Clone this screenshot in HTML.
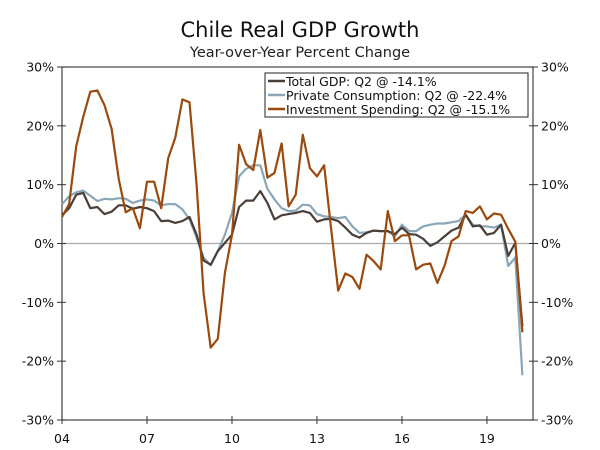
<!DOCTYPE html>
<html><head><meta charset="utf-8"><style>
body{margin:0;background:#fff;width:600px;height:450px;overflow:hidden}
svg{display:block;font-family:"DejaVu Sans","Liberation Sans",sans-serif}
</style></head><body>
<svg id="chart" width="600" height="450">
<text x="300" y="37" text-anchor="middle" font-size="21" fill="#111">Chile Real GDP Growth</text>
<text x="300" y="57" text-anchor="middle" font-size="14.5" fill="#222">Year-over-Year Percent Change</text>
<g id="axes"></g>
<g id="series"></g>
<g>
<rect x="265" y="73" width="263" height="44" fill="#fff" stroke="#222" stroke-width="1"/>
<line x1="268" y1="81" x2="285" y2="81" stroke="#4a3f38" stroke-width="2.5"/>
<text x="286" y="86" font-size="12.5" fill="#111">Total GDP: Q2 @ -14.1%</text>
<line x1="268" y1="95" x2="285" y2="95" stroke="#8aa6b8" stroke-width="2.5"/>
<text x="286" y="100" font-size="12.5" fill="#111">Private Consumption: Q2 @ -22.4%</text>
<line x1="268" y1="109" x2="285" y2="109" stroke="#9a4a0e" stroke-width="2.5"/>
<text x="286" y="114" font-size="12.5" fill="#111">Investment Spending: Q2 @ -15.1%</text>
</g>
</svg>
<script>
const yTicks=[30,20,10,0,-10,-20,-30];
const yTickLabels=["30%","20%","10%","0%","-10%","-20%","-30%"];
const xTickYears=[2004,2007,2010,2013,2016,2019];
const xTickLabels=["04","07","10","13","16","19"];
const startYear=2004;
const gdp=[4.8,6,8.3,8.6,6,6.2,5,5.4,6.5,6.5,5.9,6.2,6,5.5,3.8,3.9,3.5,3.8,4.5,1.5,-2.9,-3.6,-1.3,0.1,1.5,6.2,7.3,7.3,8.9,6.9,4.1,4.8,5,5.2,5.5,5.2,3.7,4.1,4.2,3.8,2.7,1.5,1,1.8,2.2,2.1,2.1,1.6,2.7,1.6,1.5,0.8,-0.4,0.2,1.2,2.2,2.7,4.9,2.9,3.1,1.5,1.8,3.2,-2.1,0.1,-14.1];
const consumption=[6.7,8,8.7,9,8.1,7.2,7.6,7.5,7.7,7.6,6.9,7.3,7.5,7.3,6.5,6.7,6.7,5.8,4.1,1,-2.4,-3.7,-1.3,1.5,5.2,11.4,12.7,13.3,13.3,9.3,7.5,6,5.5,5.6,6.6,6.5,5,4.6,4.5,4.3,4.5,2.9,1.8,1.9,2.2,2.1,2.1,1.2,3.2,2.1,2.1,2.9,3.2,3.4,3.4,3.6,3.8,4.9,3.2,2.9,2.9,2.7,3.2,-3.8,-2.4,-22.4];
const investment=[4.5,6.7,16.5,21.5,25.8,26,23.5,19.5,11,5.3,6,2.6,10.5,10.5,6,14.5,18,24.5,24,10,-8.5,-17.7,-16.2,-5,1.5,16.8,13.5,12.5,19.3,11.2,12,17,6.3,8.3,18.5,12.8,11.4,13.3,2.5,-8,-5.1,-5.7,-7.7,-1.9,-3,-4.4,5.5,0.4,1.4,1.4,-4.4,-3.6,-3.4,-6.7,-3.8,0.4,1.2,5.5,5.2,6.3,4.1,5.1,4.9,2.5,0.3,-15.1];
const NS="http://www.w3.org/2000/svg";
const L=62,R=533,T=67,B=420;
const yScale=v=>T+(30-v)/60*(B-T);
const xYear=y=>L+(y-startYear)*28.33;
const xIdx=i=>xYear(startYear+i/4);
function mk(tag,attrs,parent){const e=document.createElementNS(NS,tag);for(const k in attrs)e.setAttribute(k,attrs[k]);parent.appendChild(e);return e;}
const ax=document.getElementById('axes');
let f=mk('rect',{x:L,y:T,width:R-L,height:B-T,fill:'none',stroke:'#444','stroke-width':1.2},ax);


let z=mk('line',{x1:L,x2:R,y1:yScale(0),y2:yScale(0),stroke:'#aaa','stroke-width':1.3},ax);


yTicks.forEach((v,k)=>{const y=yScale(v);
 mk('line',{x1:L-5,x2:L+4,y1:y,y2:y,stroke:'#333'},ax);
 mk('line',{x1:R-4,x2:R+5,y1:y,y2:y,stroke:'#333'},ax);
 let t=mk('text',{x:L-8,y:y+4.5,'text-anchor':'end','font-size':12.5,fill:'#111'},ax);t.textContent=yTickLabels[k];
 
 
 let t2=mk('text',{x:R+8,y:y+4.5,'text-anchor':'start','font-size':12.5,fill:'#111'},ax);t2.textContent=yTickLabels[k];
 
 
});
xTickYears.forEach((yr,k)=>{const x=xYear(yr);
 mk('line',{x1:x,x2:x,y1:B-4,y2:B+4,stroke:'#333'},ax);
 let t=mk('text',{x:x,y:443,'text-anchor':'middle','font-size':12.5,fill:'#111'},ax);t.textContent=xTickLabels[k];
 
 
});
const sg=document.getElementById('series');
function line(data,color,name){const p=data.map((v,i)=>(i?'L':'M')+xIdx(i).toFixed(1)+','+yScale(v).toFixed(1)).join('');
 const e=mk('path',{d:p,fill:'none',stroke:color,'stroke-width':2.2,'stroke-linejoin':'round'},sg);
 
 }
line(consumption,'#8aa6b8','private-consumption-line');
line(gdp,'#4a3f38','total-gdp-line');
line(investment,'#9a4a0e','investment-line');
</script>
</body></html>
